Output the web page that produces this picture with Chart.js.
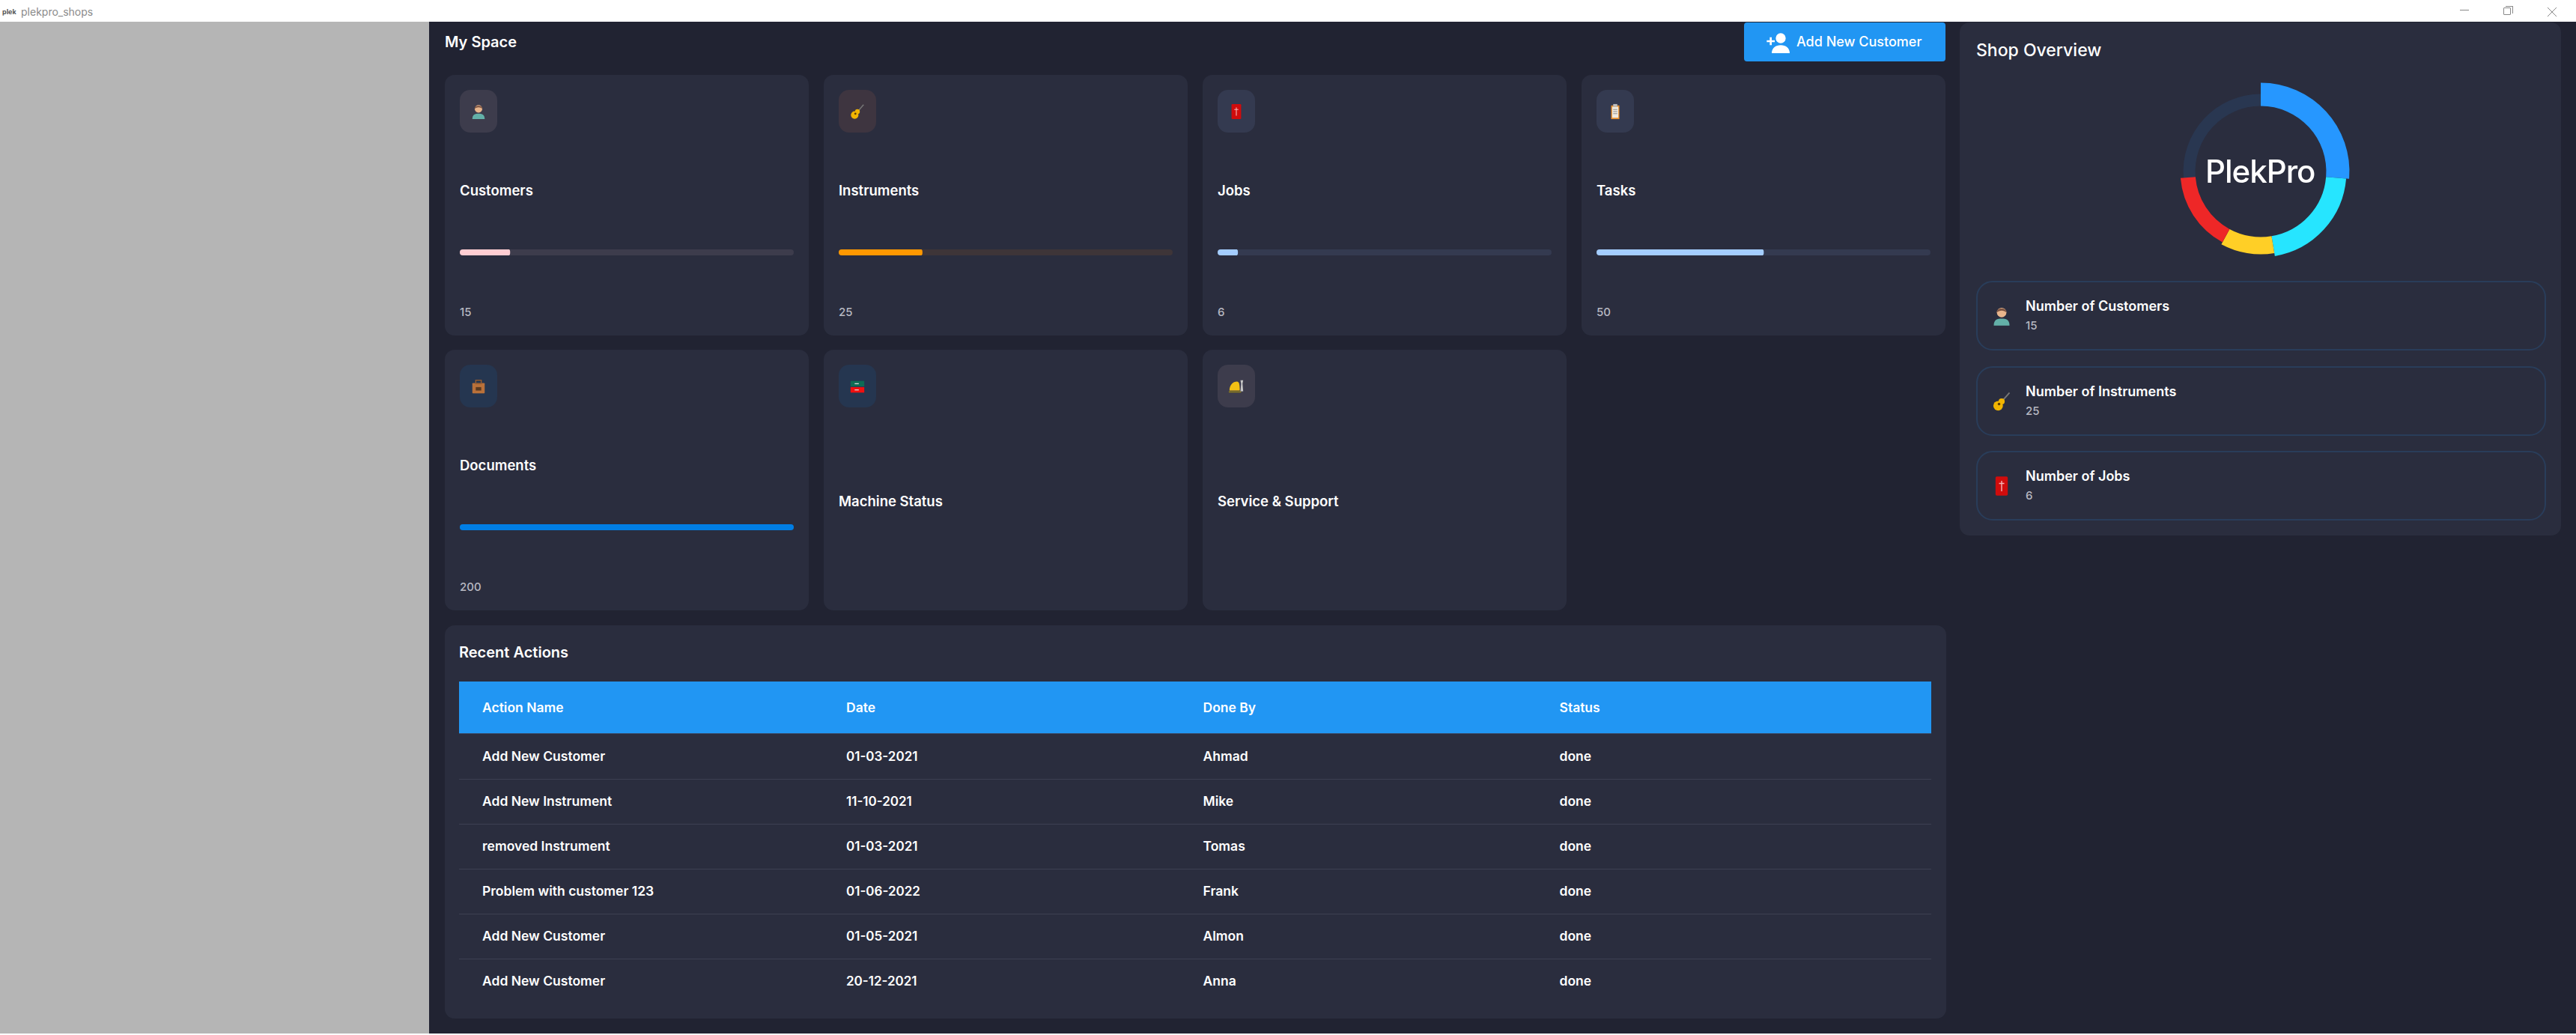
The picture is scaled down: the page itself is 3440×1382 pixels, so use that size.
<!DOCTYPE html>
<html>
<head>
<meta charset="utf-8">
<title>plekpro_shops</title>
<script src="https://cdn.jsdelivr.net/npm/chart.js@4"></script>
<style>
  html, body { margin:0; padding:0; background:#fff; overflow:hidden; }
  body { width:3440px; height:1382px; position:relative; font-family:"Inter",sans-serif; font-weight:500; color:#fff; }
  .box { position:absolute; box-sizing:border-box; }
  .txt { position:absolute; white-space:nowrap; transform:translateY(-50%); line-height:1; }
  canvas { position:absolute; display:block; }
</style>
</head>
<body>
<script>
// progress cards
const cardNames = ['Customers','Instruments','Jobs','Tasks','Documents','Machine Status','Service & Support'];
const cardValues = [15,25,6,50,200,null,null];
const cardIcons = ['person','guitar','job','clip','case','machine','helmet'];
const cardColors = ['#FFCDD2','#FF9800','#A4CDFF','#A4CDFF','#007EE5','#007EE5','#FFCDD2'];
const iconBoxColors = ['#3d3c4c','#3e3540','#343a50','#343a50','#253650','#253650','#3d3c4c'];
const trackColors = ['#3d3c4c','#3e3538','#343a50','#343a50','#253650'];
const cardX = [594,1100,1606,2112];
const cardW = 486;

// shop overview doughnut
const donutLabels = ['Customers','Instruments','Jobs','Tasks','Other'];
const donutValues = [25,20,10,15,25];
const donutColors = ['#2697FF','#26E5FF','#FFCF26','#EE2727','rgba(38,151,255,0.1)'];
const donutWidths = [31,27,23,20,16];

const overviewNames = ['Number of Customers','Number of Instruments','Number of Jobs'];
const overviewValues = [15,25,6];
const overviewIcons = ['person','guitar','job'];

// recent actions table
const tableHead = ['Action Name','Date','Done By','Status'];
const actionNames = ['Add New Customer','Add New Instrument','removed Instrument','Problem with customer 123','Add New Customer','Add New Customer'];
const actionDates = ['01-03-2021','11-10-2021','01-03-2021','01-06-2022','01-05-2021','20-12-2021'];
const actionUsers = ['Ahmad','Mike','Tomas','Frank','Almon','Anna'];
const actionStatus = ['done','done','done','done','done','done'];
const tableColX = [644,1130,1606.5,2082.5];

const ICONS = {
  person:'<circle cx="12" cy="8" r="5.500" fill="#e8b58c"/><path d="M6.500 8C6 2 18 2 17.500 8C15 5 9 5 6.500 8Z" fill="#7a5240"/><path d="M3 23c0-7 4-8 9-8s9 1 9 8Z" fill="#63b0a8"/>',
  guitar:'<path d="M14 10l7-8" stroke="#777" stroke-width="1.600"/><circle cx="8" cy="17" r="5.500" fill="#f0b400"/><circle cx="12" cy="12" r="3.500" fill="#f0b400"/><circle cx="9" cy="15" r="1.500" fill="#5a3a00"/>',
  job:'<rect x="5" y="1" width="14" height="22" rx="1.500" fill="#d00c0c"/><path d="M12 6v12M9 9h6" stroke="#f5b5b5" stroke-width="1.200"/>',
  clip:'<rect x="6" y="3" width="12" height="20" fill="#e8902c"/><rect x="7.500" y="5" width="9" height="16" fill="#efeadf"/><rect x="9" y="1" width="6" height="4" fill="#bbb"/><path d="M9 9h6M9 12h6M9 15h6" stroke="#888"/>',
  case:'<rect x="3" y="7" width="18" height="15" rx="1" fill="#b9713a"/><rect x="8" y="3" width="8" height="5" fill="none" stroke="#9a5d2e" stroke-width="1.500"/><rect x="8" y="13" width="8" height="5" fill="#5a3a20"/>',
  machine:'<rect x="2" y="4" width="20" height="8" fill="#0e6b55"/><rect x="2" y="13" width="20" height="8" fill="#f01010"/><path d="M8 8h6M8 17h6" stroke="#ddd" stroke-width="1.500"/>',
  helmet:'<path d="M2 18c0-8 5-13 11-13 3 0 4 4 4 13Z" fill="#f2c014"/><path d="M1 19h18v2H1Z" fill="#8a7a20"/><path d="M18 3h4l-1 5 1 11h-4l1-11Z" fill="#c8c8c8"/>',
  add:'<path d="M10 9a5 5 0 1 0 10 0a5 5 0 1 0-10 0ZM6 24c0-5 4-8 9-8s9 3 9 8ZM4 8v3H1v2h3v3h2v-3h3v-2H6V8Z" fill="#fff"/>'
};

function box(x,y,w,h,css){
  const d = document.createElement('div');
  d.className = 'box';
  d.style.cssText = `left:${x}px;top:${y}px;width:${w}px;height:${h}px;${css||''}`;
  document.body.appendChild(d);
  return d;
}
function text(x,cy,str,size,color,weight,spacing){
  const d = document.createElement('div');
  d.className = 'txt';
  d.textContent = str;
  d.style.cssText = `left:${x}px;top:${cy}px;font-size:${size}px;color:${color||'#fff'};font-weight:${weight||500};letter-spacing:${spacing||0}px;`;
  document.body.appendChild(d);
  return d;
}
function icon(name,cx,cy,size){
  const d = box(cx-size/2,cy-size/2,size,size);
  d.innerHTML = `<svg width="${size}" height="${size}" viewBox="0 0 24 24">${ICONS[name]}</svg>`;
}

// window frame and backgrounds
box(0,29,573,1351,'background:#B5B5B5;');
box(573,29,2867,1351,'background:#212332;');
text(28,16,'plekpro_shops',14,'#8a8a8a',400);
text(3,15,'plek',9,'#555',700);
box(3285,13,12,1,'background:#888;');
box(3343,10,10,10,'border:1px solid #888;border-radius:1px;');
box(3346,8,10,10,'border-top:1px solid #888;border-right:1px solid #888;');
const closeBtn = box(3401,7,14,14);
closeBtn.innerHTML = '<svg width="14" height="14"><path d="M1 1L13 13M13 1L1 13" stroke="#888"/></svg>';

// header
text(594,56,'My Space',20,'#fff',600);
box(2329,30,269,52,'background:#2196F3;border-radius:4px;');
icon('add',2374,55,32);
text(2399,56,'Add New Customer',18,'#fff',500);

// progress bars use one small chart each
function drawBar(x,y,w,val,color,track){
  const c = document.createElement('canvas');
  c.width = w; c.height = 8;
  c.style.cssText = `left:${x}px;top:${y}px;width:${w}px;height:8px;background:${track};border-radius:4px;`;
  document.body.appendChild(c);
  new Chart(c,{
    type:'bar',
    data:{labels:[''],datasets:[{data:[val],backgroundColor:color,barPercentage:1,categoryPercentage:1,borderRadius:3,borderSkipped:false}]},
    options:{
      indexAxis:'y',responsive:false,animation:false,devicePixelRatio:1,
      events:[],
      plugins:{legend:{display:false},tooltip:{enabled:false}},
      scales:{x:{display:false,min:0,max:100},y:{display:false}}
    }
  });
}

cardNames.forEach((name,i)=>{
  const row = i<4 ? 0 : 1;
  const x = cardX[i%4];
  const y = row===0 ? 100 : 467;
  box(x,y,cardW,348,'background:#2A2D3E;border-radius:13px;');
  box(x+20,y+20,50,57,`background:${iconBoxColors[i]};border-radius:14px;`);
  icon(cardIcons[i],x+45,y+49,22);
  if(cardValues[i]!==null){
    text(x+20,y+154,name,18.5,'#fff',600);
    drawBar(x+20,y+233,446,cardValues[i],cardColors[i],trackColors[i]);
    text(x+20,y+316,String(cardValues[i]),15,'#b8b9c2',500);
  } else {
    text(x+20,y+202,name,18.5,'#fff',600);
  }
});

// recent actions
box(594,835,2005,525,'background:#2A2D3E;border-radius:13px;');
text(613,871,'Recent Actions',20,'#fff',600);
box(613,910,1966,70,'background:#2196F3;border-bottom:1px solid #3a4a66;');
tableHead.forEach((h,i)=>text(tableColX[i],945,h,17.5,'#fff',600));
actionNames.forEach((n,i)=>{
  const cy = 1010+i*60;
  text(tableColX[0],cy,n,17.5,'#fff',600);
  text(tableColX[1],cy,actionDates[i],17,'#fff',600);
  text(tableColX[2],cy,actionUsers[i],17.5,'#fff',600);
  text(tableColX[3],cy,actionStatus[i],17.5,'#fff',600);
  if(i<5) box(613,cy+30,1966,1,'background:#3d4052;');
});

// shop overview
box(2617,30,803,685,'background:#2A2D3E;border-radius:13px;');
text(2639,67,'Shop Overview',23,'#fff',500);

const donutCanvas = document.createElement('canvas');
donutCanvas.width = 280; donutCanvas.height = 280;
donutCanvas.style.cssText = 'left:2879px;top:89px;width:280px;height:280px;';
document.body.appendChild(donutCanvas);

// each slice has its own ring width
const sliceWidths = {
  id:'sliceWidths',
  afterDatasetUpdate(chart){
    chart.getDatasetMeta(0).data.forEach((arc,i)=>{
      arc.outerRadius = arc.innerRadius + donutWidths[i];
    });
  }
};
new Chart(donutCanvas,{
  type:'doughnut',
  data:{labels:donutLabels,datasets:[{data:donutValues,backgroundColor:donutColors,borderWidth:0}]},
  options:{
    responsive:false,animation:false,devicePixelRatio:1,events:[],
    radius:119,cutout:'73.5%',
    plugins:{legend:{display:false},tooltip:{enabled:false}}
  },
  plugins:[sliceWidths]
});
text(2945,229,'PlekPro',42,'#fff',500,-1);

overviewNames.forEach((n,i)=>{
  const y = 375+i*113.5;
  box(2639,y,761,93,'border:2px solid rgba(38,151,255,0.15);border-radius:22px;');
  icon(overviewIcons[i],2673,y+47,28);
  text(2705,y+34,n,18,'#fff',600);
  text(2705,y+59,String(overviewValues[i]),15,'#b8b9c2',500);
});
</script>
</body>
</html>
